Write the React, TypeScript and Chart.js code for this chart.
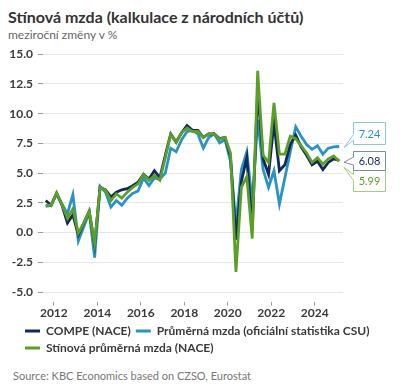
import React, { useEffect, useRef } from "react";
import { Chart, registerables } from "chart.js";

Chart.register(...registerables);

const quarters = [
  "2011Q3", "2011Q4",
  "2012Q1", "2012Q2", "2012Q3", "2012Q4",
  "2013Q1", "2013Q2", "2013Q3", "2013Q4",
  "2014Q1", "2014Q2", "2014Q3", "2014Q4",
  "2015Q1", "2015Q2", "2015Q3", "2015Q4",
  "2016Q1", "2016Q2", "2016Q3", "2016Q4",
  "2017Q1", "2017Q2", "2017Q3", "2017Q4",
  "2018Q1", "2018Q2", "2018Q3", "2018Q4",
  "2019Q1", "2019Q2", "2019Q3", "2019Q4",
  "2020Q1", "2020Q2", "2020Q3", "2020Q4",
  "2021Q1", "2021Q2", "2021Q3", "2021Q4",
  "2022Q1", "2022Q2", "2022Q3", "2022Q4",
  "2023Q1", "2023Q2", "2023Q3", "2023Q4",
  "2024Q1", "2024Q2", "2024Q3", "2024Q4",
  "2025Q1",
];

const compeNace = [
  2.7, 2.3, 3.3, 2.3, 0.8, 1.5, -0.2, 0.8, 1.8, -1.0,
  3.8, 3.6, 3.0, 3.4, 3.6, 3.7, 3.95, 4.25, 4.9, 4.5,
  5.2, 4.6, 6.5, 8.3, 7.6, 8.4, 9.0, 8.6, 8.6, 8.0,
  8.3, 8.3, 7.9, 8.0, 6.4, -0.6, 4.3, 6.3, 0.3, 12.0,
  6.2, 4.9, 9.2, 5.2, 5.7, 7.4, 8.2, 7.2, 6.5, 5.7,
  6.0, 5.3, 5.9, 6.2, 6.08,
];

const officialWage = [
  2.2, 2.3, 3.3, 2.4, 1.6, 3.2, -0.7, 0.5, 1.7, -2.1,
  3.9, 3.4, 2.15, 2.7, 2.3, 2.9, 3.3, 3.5, 4.6, 3.95,
  4.6, 4.5, 5.0, 7.1, 6.8, 7.8, 8.5, 8.6, 8.3, 7.1,
  8.0, 8.3, 7.55, 7.8, 6.0, 0.7, 5.3, 6.8, 2.5, 9.5,
  5.3, 3.8, 5.2, 2.4, 4.6, 6.8, 8.9, 8.1, 7.4, 7.0,
  7.3, 6.6, 7.1, 7.2, 7.24,
];

const shadowWage = [
  2.3, 2.3, 3.35, 2.35, 1.2, 2.0, -0.05, 0.8, 1.8, -0.9,
  3.8, 3.55, 2.7, 3.25, 2.9, 3.4, 3.8, 4.1, 4.9, 4.4,
  4.8, 4.4, 6.3, 8.25, 7.6, 8.4, 8.8, 8.5, 8.5, 8.0,
  8.3, 8.3, 7.85, 8.0, 6.7, -3.3, 3.8, 4.7, -0.5, 13.6,
  6.5, 5.9, 10.9, 6.6, 6.6, 8.1, 7.9, 7.3, 6.7, 5.9,
  6.3, 5.75, 6.2, 6.45, 5.99,
];

const seriesNames = [
  "COMPE (NACE)",
  "Průměrná mzda (oficiální statistika CSU)",
  "Stínová průměrná mzda (NACE)",
];

const yearTicks = [2012, 2014, 2016, 2018, 2020, 2022, 2024];
const valueTicks = [-5, -2.5, 0, 2.5, 5, 7.5, 10, 12.5, 15];

const NAVY = "#12295a";
const BLUE = "#2b92c6";
const GREEN = "#5c9f27";

const FONT = "Lato, 'Open Sans', sans-serif";

function quarterToX(q: string): number {
  const year = parseInt(q.slice(0, 4), 10);
  const qq = parseInt(q.slice(5), 10);
  return year + (qq - 1) * 0.25 + 0.125;
}

function toPoints(values: number[]) {
  return values.map((v, i) => ({ x: quarterToX(quarters[i]), y: v }));
}

const legendShiftPlugin = {
  id: "legendShift",
  afterLayout(chart: any) {
    if (chart.legend) {
      chart.legend.left += 12;
    }
  },
};

const calloutPlugin = {
  id: "endCallouts",
  afterDatasetsDraw(chart: any) {
    const { ctx, chartArea, scales } = chart;
    const ys = scales.y;
    const specs = [
      { ds: 1, color: BLUE, border: "#8cc6e3", dy: -13, h: 22, side: "down", tipDy: 1 },
      { ds: 2, color: GREEN, border: "#a6cc80", dy: 19, h: 21, side: "up", tipDy: 6 },
      { ds: 0, color: NAVY, border: "#7f8aa6", dy: 0, h: 19, side: "mid", tipDy: 2 },
    ];
    ctx.save();
    specs.forEach((s) => {
      const data = chart.data.datasets[s.ds].data;
      const last = data[data.length - 1].y as number;
      const py = ys.getPixelForValue(last);
      const left = chartArea.right + 10;
      const w = 32;
      const cy = py + s.dy;
      const top = Math.round(cy - s.h / 2) + 0.5;
      const l = left + 0.5;
      const tipX = chartArea.right + 1;
      const tipY = py + s.tipDy;
      ctx.beginPath();
      ctx.moveTo(l, top);
      ctx.lineTo(l + w, top);
      ctx.lineTo(l + w, top + s.h);
      ctx.lineTo(l, top + s.h);
      if (s.side === "down") {
        ctx.lineTo(l, top + s.h - 4);
        ctx.lineTo(tipX, tipY);
        ctx.lineTo(l, top + s.h - 10);
      } else if (s.side === "up") {
        ctx.lineTo(l, top + 10);
        ctx.lineTo(tipX, tipY);
        ctx.lineTo(l, top + 4);
      } else {
        ctx.lineTo(l, top + s.h / 2 + 4);
        ctx.lineTo(tipX, tipY);
        ctx.lineTo(l, top + s.h / 2 - 4);
      }
      ctx.closePath();
      ctx.fillStyle = "#ffffff";
      ctx.fill();
      ctx.lineWidth = 1;
      ctx.strokeStyle = s.border;
      ctx.stroke();
      ctx.fillStyle = s.color;
      ctx.font = `11px ${FONT}`;
      ctx.textAlign = "center";
      ctx.textBaseline = "middle";
      ctx.fillText(last.toFixed(2), l + w / 2, top + s.h / 2 + 0.5);
    });
    ctx.restore();
  },
};

export default function App() {
  const canvasRef = useRef<HTMLCanvasElement | null>(null);

  useEffect(() => {
    if (!canvasRef.current) return;
    Chart.defaults.font.family = FONT;
    const chart = new Chart(canvasRef.current, {
      type: "line",
      data: {
        datasets: [
          {
            label: seriesNames[0],
            data: toPoints(compeNace),
            borderColor: NAVY,
            backgroundColor: NAVY,
            borderWidth: 2.8,
            pointRadius: 0,
            tension: 0,
            order: 1,
          },
          {
            label: seriesNames[1],
            data: toPoints(officialWage),
            borderColor: BLUE,
            backgroundColor: BLUE,
            borderWidth: 2.8,
            pointRadius: 0,
            tension: 0,
            order: 2,
          },
          {
            label: seriesNames[2],
            data: toPoints(shadowWage),
            borderColor: GREEN,
            backgroundColor: GREEN,
            borderWidth: 2.8,
            pointRadius: 0,
            tension: 0,
            order: 0,
          },
        ],
      },
      options: {
        animation: false,
        responsive: true,
        maintainAspectRatio: false,
        layout: { padding: { top: 2, right: 0, left: 0, bottom: 0 } },
        plugins: {
          tooltip: { enabled: false },
          title: { display: false },
          legend: {
            position: "bottom",
            align: "start",
            labels: {
              boxWidth: 15,
              boxHeight: 3,
              padding: 5,
              color: "#3a3a3a",
              font: { family: FONT, size: 12, weight: "bold" },
              sort: (a: any, b: any) => a.datasetIndex - b.datasetIndex,
              generateLabels: (chart: any) =>
                Chart.defaults.plugins.legend.labels
                  .generateLabels(chart)
                  .map((it: any) => ({ ...it, lineWidth: 0, fillStyle: it.strokeStyle })),
            },
          },
        },
        scales: {
          x: {
            type: "linear",
            min: 2011.5,
            max: 2025.3,
            afterBuildTicks: (axis: any) => {
              axis.ticks = yearTicks.map((v) => ({ value: v }));
            },
            grid: {
              display: true,
              drawOnChartArea: false,
              drawTicks: true,
              tickLength: 4,
              tickColor: "#9a9a9a",
            },
            border: { display: false },
            ticks: {
              padding: 0,
              maxRotation: 0,
              autoSkip: false,
              color: "#3a3a3a",
              font: { family: FONT, size: 12, weight: "bold" },
              callback: (v: any) => String(v),
            },
          },
          y: {
            type: "linear",
            position: "left",
            min: -5.8,
            max: 15,
            afterBuildTicks: (axis: any) => {
              axis.ticks = valueTicks.map((v) => ({ value: v }));
            },
            afterFit: (scale: any) => {
              scale.width = 35;
            },
            grid: {
              color: "#e6e6e6",
              lineWidth: 1,
              drawTicks: true,
              tickLength: 5,
              tickColor: "#9a9a9a",
            },
            border: { display: false },
            ticks: {
              padding: 5,
              color: "#3a3a3a",
              font: { family: FONT, size: 12, weight: "bold" },
              callback: (v: any) => Number(v).toFixed(1),
            },
          },
          yRightSpace: {
            type: "linear",
            position: "right",
            min: -5.8,
            max: 15,
            grid: { display: false, drawTicks: false },
            border: { display: false },
            ticks: { display: false },
            afterFit: (scale: any) => {
              scale.width = 49;
            },
          },
        },
      },
      plugins: [calloutPlugin, legendShiftPlugin],
    });
    return () => chart.destroy();
  }, []);

  return (
    <div style={{ width: 384, fontFamily: FONT }}>
      <div style={{ fontSize: 16, fontWeight: "bold", lineHeight: "18px", color: "#333" }}>
        Stínová mzda (kalkulace z národních účtů)
      </div>
      <div style={{ fontSize: 12, lineHeight: "14px", marginTop: 2, color: "#666" }}>
        meziroční změny v %
      </div>
      <div style={{ position: "relative", height: 322 }}>
        <canvas ref={canvasRef} />
      </div>
      <div style={{ fontSize: 11, lineHeight: "14px", marginTop: 5, paddingLeft: 5, color: "#777" }}>
        Source: KBC Economics based on CZSO, Eurostat
      </div>
    </div>
  );
}
